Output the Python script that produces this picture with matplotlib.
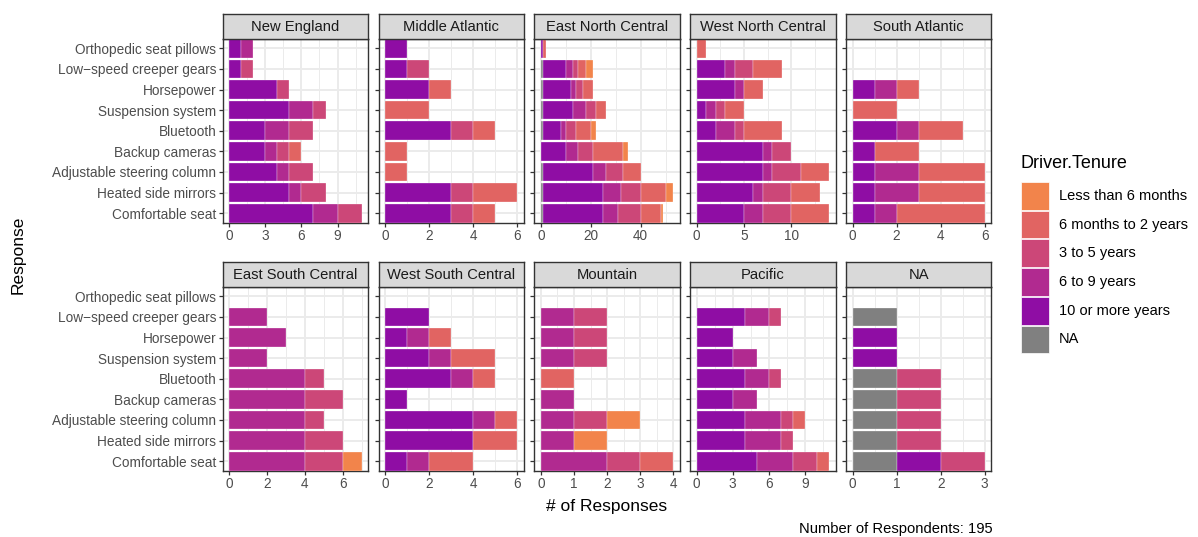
import numpy as np
import matplotlib
matplotlib.use("Agg")
import matplotlib.pyplot as plt
from matplotlib.ticker import MultipleLocator
from matplotlib.patches import Rectangle

plt.rcParams["font.family"] = ["Liberation Sans", "DejaVu Sans"]

# Feature categories, top to bottom
responses = [
    "Orthopedic seat pillows",
    "Low\u2212speed creeper gears",
    "Horsepower",
    "Suspension system",
    "Bluetooth",
    "Backup cameras",
    "Adjustable steering column",
    "Heated side mirrors",
    "Comfortable seat",
]

# Tenure levels in stacking order (left to right)
tenure_levels = ["NA", "10 or more years", "6 to 9 years", "3 to 5 years",
                 "6 months to 2 years", "Less than 6 months"]
tenure_colors = ["#808080", "#8F0DA4", "#B12A90", "#CC4778", "#E16462", "#F2844B"]
legend_order = ["Less than 6 months", "6 months to 2 years", "3 to 5 years",
                "6 to 9 years", "10 or more years", "NA"]

regions = ["New England", "Middle Atlantic", "East North Central",
           "West North Central", "South Atlantic", "East South Central",
           "West South Central", "Mountain", "Pacific", "NA"]

# Counts per response (rows) and tenure level (columns, same order as tenure_levels)
new_england = [
    [0, 1, 1, 0, 0, 0], [0, 1, 0, 1, 0, 0], [0, 4, 0, 1, 0, 0],
    [0, 5, 2, 1, 0, 0], [0, 3, 2, 2, 0, 0], [0, 3, 1, 1, 1, 0],
    [0, 4, 1, 2, 0, 0], [0, 5, 1, 2, 0, 0], [0, 7, 2, 2, 0, 0],
]
middle_atlantic = [
    [0, 1, 0, 0, 0, 0], [0, 1, 0, 1, 0, 0], [0, 2, 0, 0, 1, 0],
    [0, 0, 0, 0, 2, 0], [0, 3, 0, 1, 1, 0], [0, 0, 0, 0, 1, 0],
    [0, 0, 0, 0, 1, 0], [0, 3, 0, 1, 2, 0], [0, 3, 0, 1, 1, 0],
]
east_north_central = [
    [0, 1, 0, 0, 1, 0], [1, 9, 3, 2, 3, 3], [1, 11, 2, 3, 4, 0],
    [1, 12, 5, 4, 4, 0], [1, 7, 2, 4, 6, 2], [0, 10, 5, 6, 12, 2],
    [1, 20, 5, 7, 7, 0], [1, 24, 7, 8, 10, 3], [1, 24, 6, 9, 8, 1],
]
west_north_central = [
    [0, 0, 0, 0, 1, 0], [0, 3, 1, 2, 3, 0], [0, 4, 1, 0, 2, 0],
    [0, 1, 1, 1, 2, 0], [0, 2, 2, 1, 4, 0], [0, 7, 1, 2, 0, 0],
    [0, 7, 1, 3, 3, 0], [0, 6, 1, 3, 3, 0], [0, 5, 2, 3, 4, 0],
]
south_atlantic = [
    [0, 0, 0, 0, 0, 0], [0, 0, 0, 0, 0, 0], [0, 1, 1, 0, 1, 0],
    [0, 0, 0, 0, 2, 0], [0, 2, 1, 0, 2, 0], [0, 1, 0, 0, 2, 0],
    [0, 1, 2, 0, 3, 0], [0, 1, 2, 0, 3, 0], [0, 1, 1, 0, 4, 0],
]
east_south_central = [
    [0, 0, 0, 0, 0, 0], [0, 0, 2, 0, 0, 0], [0, 0, 3, 0, 0, 0],
    [0, 0, 2, 0, 0, 0], [0, 0, 4, 1, 0, 0], [0, 0, 4, 2, 0, 0],
    [0, 0, 4, 1, 0, 0], [0, 0, 4, 2, 0, 0], [0, 0, 4, 2, 0, 1],
]
west_south_central = [
    [0, 0, 0, 0, 0, 0], [0, 2, 0, 0, 0, 0], [0, 1, 1, 0, 1, 0],
    [0, 2, 1, 0, 2, 0], [0, 3, 1, 0, 1, 0], [0, 1, 0, 0, 0, 0],
    [0, 4, 1, 0, 1, 0], [0, 4, 0, 0, 2, 0], [0, 1, 1, 0, 2, 0],
]
mountain = [
    [0, 0, 0, 0, 0, 0], [0, 0, 1, 1, 0, 0], [0, 0, 1, 1, 0, 0],
    [0, 0, 1, 1, 0, 0], [0, 0, 0, 0, 1, 0], [0, 0, 1, 0, 0, 0],
    [0, 0, 1, 1, 0, 1], [0, 0, 1, 0, 0, 1], [0, 0, 2, 1, 1, 0],
]
pacific = [
    [0, 0, 0, 0, 0, 0], [0, 4, 2, 1, 0, 0], [0, 3, 0, 0, 0, 0],
    [0, 3, 2, 0, 0, 0], [0, 4, 2, 1, 0, 0], [0, 3, 2, 0, 0, 0],
    [0, 4, 3, 1, 1, 0], [0, 4, 3, 1, 0, 0], [0, 5, 3, 2, 1, 0],
]
na_region = [
    [0, 0, 0, 0, 0, 0], [1, 0, 0, 0, 0, 0], [0, 1, 0, 0, 0, 0],
    [0, 1, 0, 0, 0, 0], [1, 0, 0, 1, 0, 0], [1, 0, 0, 1, 0, 0],
    [1, 0, 0, 1, 0, 0], [1, 0, 0, 1, 0, 0], [1, 1, 0, 1, 0, 0],
]

region_counts = [new_england, middle_atlantic, east_north_central,
                 west_north_central, south_atlantic, east_south_central,
                 west_south_central, mountain, pacific, na_region]
tick_steps = [3, 2, 20, 5, 2, 2, 2, 1, 3, 1]
respondents = 195

# ---- layout (pixel units) ----
W, H = 1198, 537
fig = plt.figure(figsize=(W / 100, H / 100), dpi=100)
fig.patch.set_facecolor("white")

panel_left0 = 222.7
panel_pitch = 155.8
panel_w = 145.5
row_tops = [39.0, 287.0]
panel_h = 183.5
strip_h = 25.5

GRID = "#EBEBEB"
DARK = "#333333"
TICKTXT = "#4D4D4D"


def fig_rect(x, y, w, h):
    return [x / W, 1 - (y + h) / H, w / W, h / H]


for k, (name, counts) in enumerate(zip(regions, region_counts)):
    r, c = divmod(k, 5)
    x0 = panel_left0 + c * panel_pitch
    y0 = row_tops[r]
    ax = fig.add_axes(fig_rect(x0, y0, panel_w, panel_h))
    arr = np.array(counts, dtype=float)
    ypos = np.arange(len(responses))
    left = np.zeros(len(responses))
    for j, level in enumerate(tenure_levels):
        vals = arr[:, j]
        mask = vals > 0
        if mask.any():
            ax.barh(ypos[mask], vals[mask], left=left[mask], height=0.9,
                    color=tenure_colors[j], edgecolor="white", linewidth=0.2,
                    zorder=3)
        left += vals
    xmax = left.max()
    ax.set_xlim(-0.05 * xmax, 1.05 * xmax)
    ax.set_ylim(len(responses) - 0.55, -0.45)
    step = tick_steps[k]
    ax.xaxis.set_major_locator(MultipleLocator(step))
    ax.xaxis.set_minor_locator(MultipleLocator(step / 2))
    ax.set_yticks(ypos)
    ax.grid(which="major", color=GRID, linewidth=1.4, zorder=0)
    ax.grid(which="minor", axis="x", color=GRID, linewidth=0.7, zorder=0)
    ax.set_axisbelow(True)
    for s in ax.spines.values():
        s.set_color(DARK)
        s.set_linewidth(1.0)
    ax.tick_params(which="major", length=2.7, width=0.9, color=DARK,
                   labelsize=9.8, labelcolor=TICKTXT, pad=2)
    ax.tick_params(which="minor", length=0)
    if c == 0:
        ax.set_yticklabels(responses)
    else:
        ax.set_yticklabels([])

    # facet strip
    sax = fig.add_axes(fig_rect(x0, y0 - strip_h, panel_w, strip_h))
    sax.set_facecolor("#D9D9D9")
    sax.set_xticks([])
    sax.set_yticks([])
    for s in sax.spines.values():
        s.set_color(DARK)
        s.set_linewidth(1.0)
    sax.text(0.5, 0.47, name, ha="center", va="center", fontsize=10.6,
             color="#1A1A1A", transform=sax.transAxes)

# axis titles
fig.text((panel_left0 + 4 * panel_pitch + panel_w + panel_left0) / 2 / W,
         1 - 506 / H, "# of Responses", ha="center", va="center",
         fontsize=12.5, color="black")
fig.text(18 / W, 1 - 254.5 / H, "Response", ha="center", va="center",
         rotation=90, fontsize=12.5, color="black")
fig.text(993 / W, 1 - 529 / H, f"Number of Respondents: {respondents}",
         ha="right", va="center", fontsize=10.6, color="black")

# legend
fig.text(1020 / W, 1 - 163 / H, "Driver.Tenure", ha="left", va="center",
         fontsize=13, color="black")
key_top = 181.5
key_h = 28.7
for i, level in enumerate(legend_order):
    col = tenure_colors[tenure_levels.index(level)]
    yk = key_top + i * key_h
    fig.patches.append(Rectangle((1021 / W, 1 - (yk + key_h - 0.5) / H),
                                 28 / W, (key_h - 1) / H,
                                 transform=fig.transFigure, facecolor=col,
                                 edgecolor="white", linewidth=0.5))
    fig.text(1059 / W, 1 - (yk + key_h / 2) / H, level, ha="left",
             va="center", fontsize=10.5, color="black")

fig.savefig("out.png", dpi=100, facecolor="white")
